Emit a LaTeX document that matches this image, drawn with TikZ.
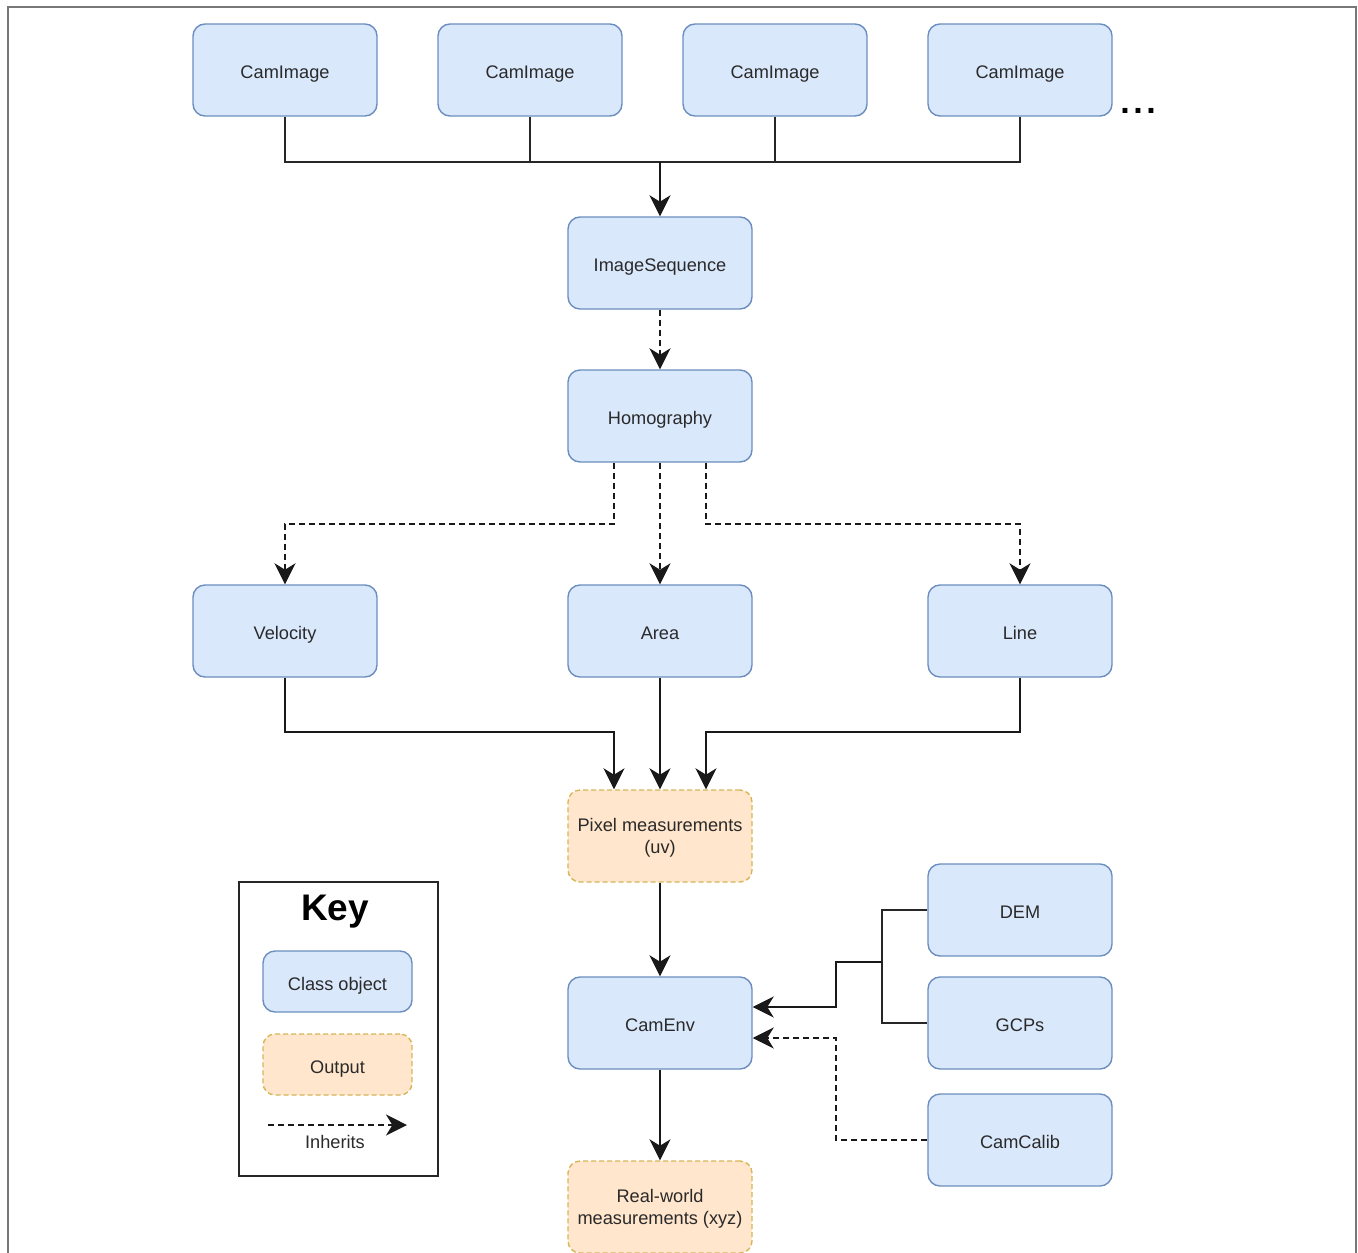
\documentclass[tikz,border=0pt]{standalone}
\usepackage{fontspec}
\setmainfont{Liberation Sans}
\usetikzlibrary{arrows.meta,calc}
\definecolor{bfill}{HTML}{DAE8FC}
\definecolor{bdraw}{HTML}{6C8EBF}
\definecolor{ofill}{HTML}{FFE6CC}
\definecolor{odraw}{HTML}{D6B656}
\definecolor{txt}{HTML}{2A2A2A}
\definecolor{frame}{HTML}{777777}
\tikzset{
  clsbase/.style={draw=bdraw, fill=bfill, line width=0.7pt, rounded corners=6pt,
    minimum width=92pt, minimum height=46pt, inner sep=1pt, align=center,
    text=txt, font=\fontsize{9.1}{11}\selectfont},
  cls/.style={clsbase, text height=8.6pt, text depth=0pt},
  outbox/.style={clsbase, draw=odraw, fill=ofill, dash pattern=on 2.5pt off 1.5pt, text depth=-1.6pt},
  arr/.style={line width=1pt, draw=black!90, -{Stealth[length=10.5pt,width=10.5pt,inset=3.2pt]}},
  inh/.style={arr, dash pattern=on 3pt off 2pt},
  conn/.style={line width=1pt, draw=black!85},
}
\begin{document}
\begin{tikzpicture}[x=0.5pt,y=-0.5pt]
\useasboundingbox (0,0) rectangle (1358,1252);
\draw[frame, line width=1pt] (7.5,7.5) rectangle (1356,1290);
% top row
\node[cls] (c1) at (285,70) {CamImage};
\node[cls] (c2) at (530,70) {CamImage};
\node[cls] (c3) at (775,70) {CamImage};
\node[cls] (c4) at (1020,70) {CamImage};
\node[font=\bfseries\fontsize{17}{17}\selectfont, inner sep=0pt, anchor=base] (dots) at (1138,113) {.\kern1.8pt.\kern1.8pt.};
\node[cls] (seq) at (660,263) {ImageSequence};
\node[cls] (homo) at (660,416) {Homography};
\node[cls] (vel) at (285,631) {Velocity};
\node[cls] (area) at (660,631) {Area};
\node[cls] (line) at (1020,631) {Line};
\node[outbox] (pix) at (660,836) {Pixel measurements\\(uv)};
\node[cls] (cam) at (660,1023) {CamEnv};
\node[cls] (dem) at (1020,910) {DEM};
\node[cls] (gcp) at (1020,1023) {GCPs};
\node[cls] (calib) at (1020,1140) {CamCalib};
\node[outbox] (real) at (660,1207) {Real-world\\measurements (xyz)};
% key
\node[draw=black!85, line width=0.8pt, minimum width=99.5pt, minimum height=147pt, inner sep=0pt] (keybox) at (338.5,1029) {};
\node[font=\bfseries\fontsize{18.5}{18.5}\selectfont, inner sep=0pt] (keyt) at (335,912) {Key};
\node[cls, minimum width=74.5pt, minimum height=30.5pt] (kcls) at (337.5,981.5) {Class object};
\node[outbox, minimum width=74.5pt, minimum height=30.5pt, text height=8.6pt, text depth=0pt] (kout) at (337.5,1064.5) {Output};
\coordinate (ka) at (268,1125);
\coordinate (kb) at (407,1125);
\draw[inh] (ka) -- (kb);
\node[text=txt, font=\fontsize{9.1}{11}\selectfont, inner sep=0pt, text height=6.6pt, text depth=0pt] (kinh) at (335,1142) {Inherits};
% connectors
\coordinate (jt) at (660,162);
\draw[conn] (c1.south) |- (jt);
\draw[conn] (c2.south) |- (jt);
\draw[conn] (c3.south) |- (jt);
\draw[conn] (c4.south) |- (jt);
\draw[arr] (jt) -- (seq.north);
\draw[inh] (seq.south) -- (homo.north);
\draw[inh] ($(homo.south)+(-46,0)$) -- ++(0,61) -| (vel.north);
\draw[inh] (homo.south) -- (area.north);
\draw[inh] ($(homo.south)+(46,0)$) -- ++(0,61) -| (line.north);
\draw[arr] (vel.south) -- ++(0,54) -| ($(pix.north)+(-46,0)$);
\draw[arr] (area.south) -- (pix.north);
\draw[arr] (line.south) -- ++(0,54) -| ($(pix.north)+(46,0)$);
\draw[arr] (pix.south) -- (cam.north);
\coordinate (jd) at (882,962);
\draw[conn] (dem.west) -| (jd) |- (gcp.west);
\draw[arr] (jd) -- (836,962) |- ($(cam.east)+(0,-16)$);
\draw[inh] (calib.west) -- ++(-91,0) |- ($(cam.east)+(0,15)$);
\draw[arr] (cam.south) -- (real.north);
\end{tikzpicture}
\end{document}
